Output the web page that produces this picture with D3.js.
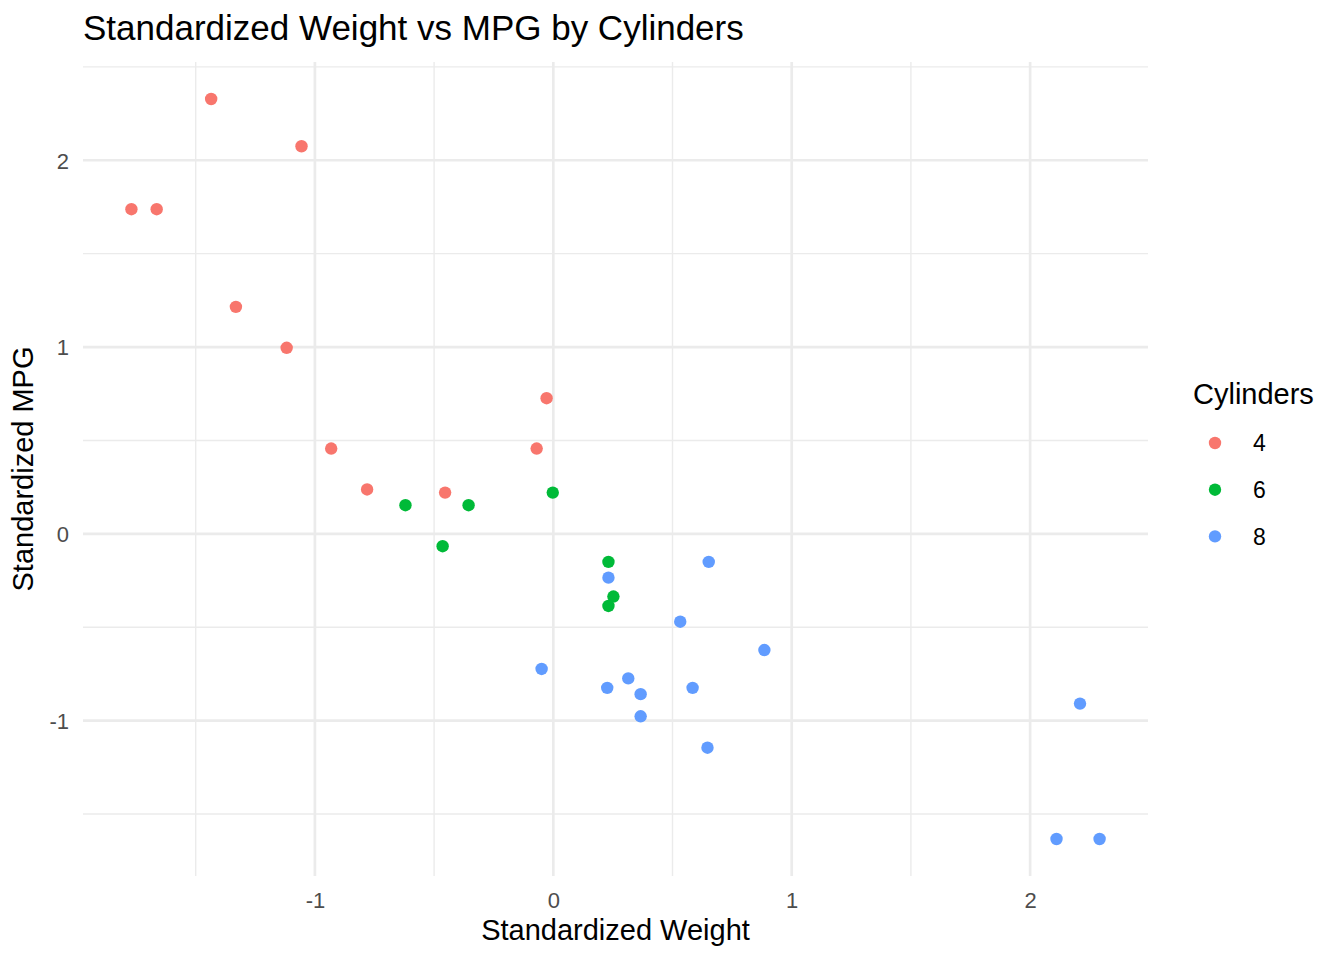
<!DOCTYPE html>
<html>
<head>
<meta charset="utf-8">
<script src="https://cdn.jsdelivr.net/npm/d3@7"></script>
<style>
  body { margin: 0; background: #fff; }
  text { font-family: "Liberation Sans", Arial, sans-serif; }
</style>
</head>
<body>
<div id="chart"></div>
<script>
// Standardized weight (x), standardized mpg (y) and cylinder group per car
var weightZ = [-0.6202, -0.3554, -0.9317, -0.0023, 0.2313, 0.2521, 0.3663, -0.0282,
               -0.0698, 0.2313, 0.2313, 0.8854, 0.5324, 0.5843, 2.1107, 2.2914,
               2.2093, -1.0562, -1.6637, -1.4352, -0.7811, 0.3144, 0.2262, 0.6467,
               0.6519, -1.3314, -1.1185, -1.7697, -0.0491, -0.4643, 0.3663, -0.4539];
var mpgZ = [0.1533, 0.1533, 0.4567, 0.2208, -0.2344, -0.3356, -0.9767, 0.7264,
            0.4567, -0.1500, -0.3860, -0.6220, -0.4702, -0.8243, -1.6335, -1.6335,
            -0.9087, 2.0751, 1.7380, 2.3280, 0.2377, -0.7738, -0.8243, -1.1447,
            -0.1500, 1.2153, 0.9962, 1.7380, -0.7232, -0.0659, -0.8580, 0.2208];
var cyl = ["6", "6", "4", "6", "8", "6", "8", "4", "4", "6", "6", "8", "8", "8", "8", "8",
           "8", "4", "4", "4", "4", "8", "8", "8", "8", "4", "4", "4", "8", "6", "8", "4"];
var cylLevels = ["4", "6", "8"];
var xMajor = [-1, 0, 1, 2];
var xMinor = [-1.5, -0.5, 0.5, 1.5];
var yMajor = [-1, 0, 1, 2];
var yMinor = [-1.5, -0.5, 0.5, 1.5, 2.5];

var W = 1344, H = 960;
var panel = {left: 83, right: 1148, top: 62, bottom: 876};

var points = weightZ.map(function(d, i) {
  return {x: d, y: mpgZ[i], cyl: cyl[i]};
});

// ggplot-style 5% expansion
function expand(ext) {
  var pad = (ext[1] - ext[0]) * 0.05;
  return [ext[0] - pad, ext[1] + pad];
}

var x = d3.scaleLinear()
    .domain(expand(d3.extent(weightZ)))
    .range([panel.left, panel.right]);

var y = d3.scaleLinear()
    .domain(expand(d3.extent(mpgZ)))
    .range([panel.bottom, panel.top]);

var color = d3.scaleOrdinal()
    .domain(cylLevels)
    .range(["#F8766D", "#00BA38", "#619CFF"]);

var svg = d3.select("#chart")
  .append("svg")
  .attr("width", W)
  .attr("height", H);

// Grid lines
var grid = svg.append("g").attr("stroke", "#EBEBEB");

grid.selectAll(".xminor").data(xMinor).enter().append("line")
    .attr("x1", x).attr("x2", x)
    .attr("y1", panel.top).attr("y2", panel.bottom)
    .attr("stroke-width", 1.4);
grid.selectAll(".yminor").data(yMinor).enter().append("line")
    .attr("x1", panel.left).attr("x2", panel.right)
    .attr("y1", y).attr("y2", y)
    .attr("stroke-width", 1.4);
grid.selectAll(".xmajor").data(xMajor).enter().append("line")
    .attr("x1", x).attr("x2", x)
    .attr("y1", panel.top).attr("y2", panel.bottom)
    .attr("stroke-width", 2.7);
grid.selectAll(".ymajor").data(yMajor).enter().append("line")
    .attr("x1", panel.left).attr("x2", panel.right)
    .attr("y1", y).attr("y2", y)
    .attr("stroke-width", 2.7);

// Axes (labels only, like theme_minimal); plain hyphen for negatives
var fmt = function(d) { return String(d); };
var xAxis = d3.axisBottom(x).tickValues(xMajor).tickSize(0).tickPadding(0).tickFormat(fmt);
var yAxis = d3.axisLeft(y).tickValues(yMajor).tickSize(0).tickPadding(0).tickFormat(fmt);

var gx = svg.append("g")
    .attr("transform", "translate(0," + panel.bottom + ")")
    .call(xAxis);
gx.select(".domain").remove();
gx.selectAll("text")
    .attr("y", 32)
    .attr("dy", 0)
    .style("font-size", "22px")
    .style("font-family", "Liberation Sans, Arial, sans-serif")
    .attr("fill", "#4D4D4D");

var gy = svg.append("g")
    .attr("transform", "translate(" + panel.left + ",0)")
    .call(yAxis);
gy.select(".domain").remove();
gy.selectAll("text")
    .attr("x", -14)
    .attr("dy", "0.36em")
    .style("font-size", "22px")
    .style("font-family", "Liberation Sans, Arial, sans-serif")
    .attr("fill", "#4D4D4D");

// Points
svg.append("g").selectAll("circle")
    .data(points)
  .enter().append("circle")
    .attr("cx", function(d) { return x(d.x); })
    .attr("cy", function(d) { return y(d.y); })
    .attr("r", 6.2)
    .attr("fill", function(d) { return color(d.cyl); });

// Titles
svg.append("text")
    .attr("x", panel.left)
    .attr("y", 40)
    .style("font-size", "35px")
    .attr("fill", "#000")
    .text("Standardized Weight vs MPG by Cylinders");

svg.append("text")
    .attr("x", (panel.left + panel.right) / 2)
    .attr("y", 940)
    .attr("text-anchor", "middle")
    .style("font-size", "29px")
    .attr("fill", "#000")
    .text("Standardized Weight");

svg.append("text")
    .attr("transform", "translate(33," + ((panel.top + panel.bottom) / 2) + ") rotate(-90)")
    .attr("text-anchor", "middle")
    .style("font-size", "29px")
    .attr("fill", "#000")
    .text("Standardized MPG");

// Legend
var legend = svg.append("g");
legend.append("text")
    .attr("x", 1193)
    .attr("y", 404)
    .style("font-size", "29px")
    .attr("fill", "#000")
    .text("Cylinders");

var keys = legend.selectAll(".key")
    .data(cylLevels)
  .enter().append("g")
    .attr("transform", function(d, i) { return "translate(0," + (443 + i * 46.7) + ")"; });
keys.append("circle")
    .attr("cx", 1215)
    .attr("r", 6.2)
    .attr("fill", function(d) { return color(d); });
keys.append("text")
    .attr("x", 1253)
    .attr("dy", "0.36em")
    .style("font-size", "23px")
    .attr("fill", "#000")
    .text(function(d) { return d; });
</script>
</body>
</html>
